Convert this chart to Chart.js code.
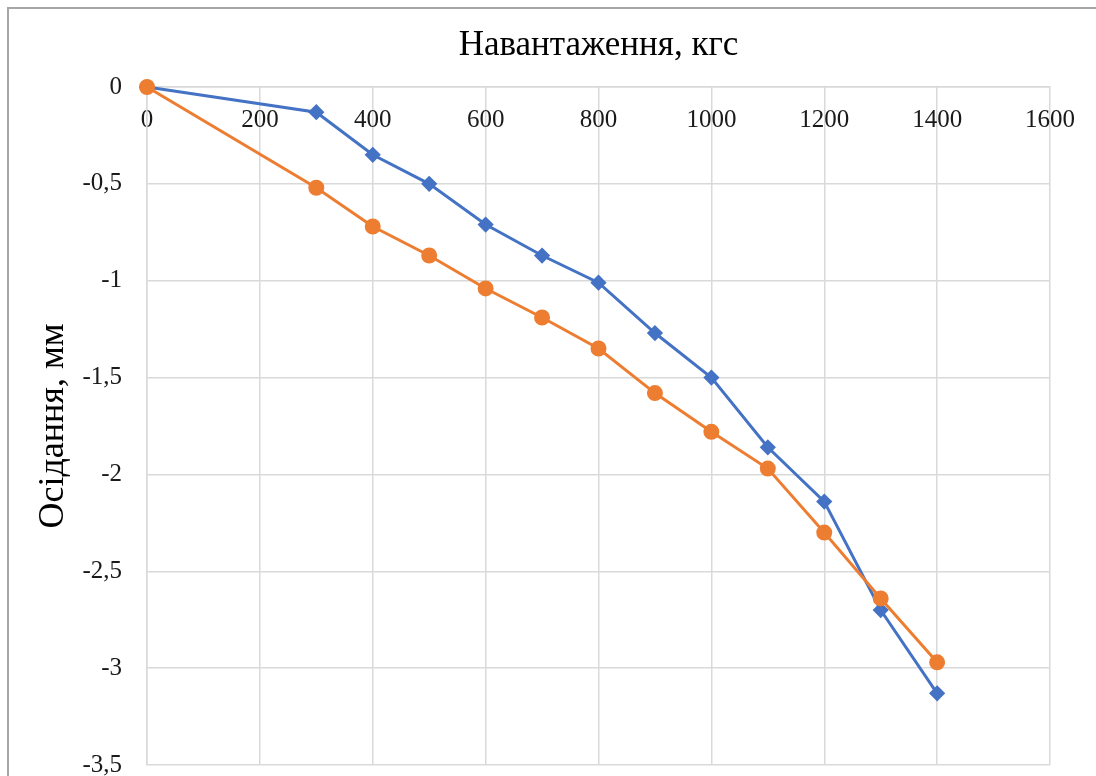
<!DOCTYPE html>
<html>
<head>
<meta charset="utf-8">
<script src="https://cdn.jsdelivr.net/npm/chart.js@4"></script>
<style>
    body { margin: 0; background: #fff; overflow: hidden; }
    #wrap { position: relative; width: 1096px; height: 776px; }
    #frame {
        position: absolute; left: 7px; top: 7px; right: 0; bottom: 0;
        border-left: 2px solid #a6a6a6; border-top: 2px solid #a6a6a6;
        pointer-events: none;
    }
</style>
</head>
<body>
<div id="wrap">
    <canvas id="settle-chart"></canvas>
    <div id="frame"></div>
</div>
<script>
// Load steps (kgf) and settlement (mm) for both tests
const loads = [0, 300, 400, 500, 600, 700, 800, 900, 1000, 1100, 1200, 1300, 1400];
const settleBlue = [0, -0.13, -0.35, -0.50, -0.71, -0.87, -1.01, -1.27, -1.50, -1.86, -2.14, -2.70, -3.13];
const settleOrange = [0, -0.52, -0.72, -0.87, -1.04, -1.19, -1.35, -1.58, -1.78, -1.97, -2.30, -2.64, -2.97];

const xTitle = "Навантаження, кгс";
const yTitle = "Осідання, мм";

const serif = "'Liberation Serif', 'Times New Roman', serif";
const gridColor = "#d9d9d9";

const toPoints = (ys) => loads.map((x, i) => ({ x: x, y: ys[i] }));

const ctx = document.getElementById("settle-chart").getContext("2d");

new Chart(ctx, {
    type: "line",
    data: {
        datasets: [
            {
                label: "Серія 1",
                data: toPoints(settleBlue),
                borderColor: "#4472c4",
                backgroundColor: "#4472c4",
                borderWidth: 3,
                pointStyle: "rectRot",
                pointRadius: 6,
                tension: 0,
                clip: false,
                order: 2,
            },
            {
                label: "Серія 2",
                data: toPoints(settleOrange),
                borderColor: "#ed7d31",
                backgroundColor: "#ed7d31",
                borderWidth: 3,
                pointStyle: "circle",
                pointRadius: 6.5,
                tension: 0,
                clip: false, // origin marker sits on the corner, keep it whole
                order: 1,
            },
        ],
    },
    options: {
        responsive: true,
        maintainAspectRatio: false,
        animation: false,
        layout: {
            padding: { left: 0, top: 0, right: 46, bottom: 11 },
        },
        plugins: {
            legend: { display: false },
            tooltip: { enabled: false },
            title: {
                display: true,
                text: xTitle,
                fullSize: false,
                color: "#000",
                font: { family: serif, size: 35, weight: "normal" },
                padding: { top: 25, bottom: 20 },
            },
        },
        scales: {
            x: {
                type: "linear",
                position: { y: 0 }, // labels sit under the zero line, like the original
                min: 0,
                max: 1600,
                grid: { color: gridColor, lineWidth: 1.5, drawTicks: false },
                border: { color: gridColor, width: 1.5 },
                ticks: {
                    stepSize: 200,
                    padding: 18,
                    color: "#1a1a1a",
                    font: { family: serif, size: 25 },
                    callback: (value) => String(value),
                },
            },
            y: {
                type: "linear",
                position: "left",
                min: -3.5,
                max: 0,
                grid: { color: gridColor, lineWidth: 1.5, drawTicks: false },
                border: { color: gridColor, width: 1.5 },
                ticks: {
                    stepSize: 0.5,
                    padding: 25,
                    color: "#1a1a1a",
                    font: { family: serif, size: 25, lineHeight: 1 },
                    callback: (value) => String(value).replace(".", ","),
                },
                title: {
                    display: true,
                    text: yTitle,
                    color: "#000",
                    font: { family: serif, size: 36, weight: "normal" },
                    padding: { top: 32, bottom: 0 },
                },
                afterFit: (scale) => {
                    scale.width = 147;
                    // tick padding would otherwise push the plot bottom up
                    scale.paddingTop = 0;
                    scale.paddingBottom = 0;
                },
            },
        },
    },
});
</script>
</body>
</html>
